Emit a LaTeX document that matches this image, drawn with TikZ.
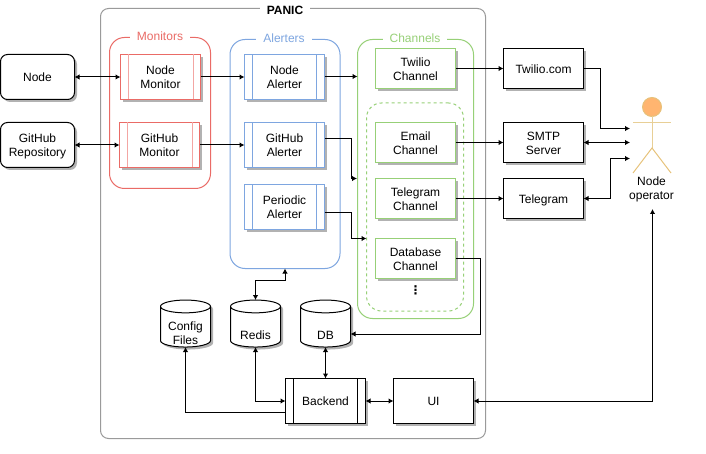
\documentclass[tikz,border=0pt]{standalone}
\usepackage{fontspec}
\setmainfont{Liberation Sans}
\newfontfamily\dotsfont{DejaVu Sans}
\usetikzlibrary{arrows.meta,positioning,shapes.geometric,shadows}
\definecolor{panicline}{HTML}{9A9A9A}
\definecolor{monred}{HTML}{EA6B66}
\definecolor{alblue}{HTML}{7EA6E0}
\definecolor{chgreen}{HTML}{97D077}
\definecolor{headfill}{HTML}{FFB570}
\definecolor{headline}{HTML}{E6C27A}
\definecolor{bodyline}{HTML}{E8CF96}
\newcommand{\procbars}[3]{
  \draw[#2,line width=1pt] ([xshift=#3]#1.north west) -- ([xshift=#3]#1.south west);
  \draw[#2,line width=1pt] ([xshift=-#3]#1.north east) -- ([xshift=-#3]#1.south east);
}
\tikzset{
  every node/.style={font=\fontsize{12}{14}\selectfont,align=center,inner sep=0pt,outer sep=0pt},
  shade2/.style={drop shadow={shadow xshift=2.5pt,shadow yshift=-2.5pt,fill=black,opacity=.3}},
  box/.style={draw=black,fill=white,line width=1pt,minimum width=80pt,minimum height=45pt,text height=9.5pt,text depth=0pt,shade2},
  twolines/.style={text height=24pt},
  source/.style={box,minimum width=74pt,rounded corners=7pt},
  outbox/.style={box,minimum height=40pt},
  monbox/.style={box,twolines,draw=monred},
  alertbox/.style={box,twolines,draw=alblue},
  chanbox/.style={outbox,twolines,draw=chgreen},
  store/.style={cylinder,shape border rotate=90,shape aspect=.32,draw=black,fill=white,line width=1pt,minimum width=50pt,minimum height=47pt,text width=40pt,text height=25pt,text depth=0pt,shade2},
  group/.style={draw=#1,fill=white,line width=1pt,rounded corners=15pt,anchor=north west},
  grouptitle/.style={fill=white,inner xsep=7pt,inner ysep=1pt,text=#1},
  flow/.style={-{Latex[length=5pt,width=5.5pt]},line width=1pt,draw=black},
  sync/.style={{Latex[length=5pt,width=5.5pt]}-{Latex[length=5pt,width=5.5pt]},line width=1pt,draw=black},
  actor/.style={line width=1pt,draw=bodyline}
}
\begin{document}
\begin{tikzpicture}[x=1pt,y=-1pt]
\useasboundingbox (0,0) rectangle (706,454);

% containers
\node[group=panicline,rounded corners=8pt,minimum width=385pt,minimum height=430pt] (panic) at (100.5,8.5) {};
\node[fill=white,inner xsep=7pt,inner ysep=1pt,font=\fontsize{12}{14}\selectfont\bfseries] (panictitle) at (285,10) {PANIC};
\node[group=monred,minimum width=101pt,minimum height=151pt] (monitors) at (109.5,37.5) {};
\node[grouptitle=monred] (monitorstitle) at (160,36.5) {Monitors};
\node[group=alblue,minimum width=110pt,minimum height=229pt] (alerters) at (230,39.5) {};
\node[grouptitle=alblue] (alerterstitle) at (284,38.5) {Alerters};
\node[group=chgreen,minimum width=116pt,minimum height=279pt] (channels) at (357.5,39.5) {};
\node[grouptitle=chgreen] (channelstitle) at (415,38.5) {Channels};
\node[group=chgreen,dashed,minimum width=97pt,minimum height=208pt] (optional) at (366.5,103) {};

% left column
\node[source,anchor=north west] (node) at (0.5,54.5) {Node};
\node[source,twolines,below=23pt of node] (github) {GitHub\\Repository};

% monitors and alerters
\node[monbox,anchor=north west] (nodemon) at (120.5,54.5) {Node\\Monitor};
\node[monbox,anchor=north west] (gitmon) at (119.5,122.5) {GitHub\\Monitor};
\node[alertbox,right=44pt of nodemon] (nodealert) {Node\\Alerter};
\node[alertbox,below=23pt of nodealert] (gitalert) {GitHub\\Alerter};
\node[alertbox,below=17pt of gitalert] (periodic) {Periodic\\Alerter};
\procbars{nodemon}{monred!60}{7.5pt}
\procbars{gitmon}{monred!60}{7.5pt}
\procbars{nodealert}{alblue}{8pt}
\procbars{gitalert}{alblue}{8pt}
\procbars{periodic}{alblue}{8pt}

% channels
\node[chanbox,anchor=north west] (twiliochan) at (375.5,48.5) {Twilio\\Channel};
\node[chanbox,below=34pt of twiliochan] (emailchan) {Email\\Channel};
\node[chanbox,below=16pt of emailchan] (telechan) {Telegram\\Channel};
\node[chanbox,below=20pt of telechan] (dbchan) {Database\\Channel};
\node[below=7pt of dbchan] (ellipsis) {\dotsfont\bfseries ⋮};

% right column
\node[outbox,right=48pt of twiliochan] (twilio) {Twilio.com};
\node[outbox,twolines,below=34pt of twilio] (smtp) {SMTP\\Server};
\node[outbox,below=16pt of smtp] (telegram) {Telegram};

% stores
\node[store] (config) at (185.5,327) {\raisebox{-5pt}{\begin{tabular}[b]{@{}c@{}}Config\\Files\end{tabular}}};
\node[store,right=20pt of config] (redis) {Redis};
\node[store,right=20pt of redis] (db) {DB};

% bottom row
\node[box,anchor=north west] (backend) at (285.5,378.5) {Backend};
\node[box,right=28pt of backend] (ui) {UI};
\procbars{backend}{black}{8pt}

% node operator
\node[circle,draw=headline,fill=headfill,line width=1pt,minimum size=19pt] (head) at (652,107) {};
\coordinate (hip) at (652,148);
\coordinate (armleft) at (633,123);
\coordinate (armright) at (671,123);
\coordinate (legleft) at (633,173);
\coordinate (legright) at (671,173);
\draw[actor] (head.south) -- (hip);
\draw[actor] (armleft) -- (armright);
\draw[actor,draw=headline] (legleft) -- (hip) -- (legright);
\node (operator) at (651.5,189) {Node\\operator};
\coordinate (infromtwilio) at (630,128.5);
\coordinate (infromsmtp) at (630,142.5);
\coordinate (infromtelegram) at (630,158.5);
\coordinate (infromui) at (652.5,209);

% connectors
\draw[sync] (node) -- (nodemon);
\draw[sync] (github) -- (github -| gitmon.west);
\draw[flow] (nodemon) -- (nodealert);
\draw[flow] (gitmon) -- (gitalert);
\draw[flow] ([yshift=.5pt]nodealert.east) -- ([yshift=.5pt]nodealert.east -| channels.west);
\coordinate (gitout) at ([yshift=6.5pt]gitalert.east);
\coordinate (perout) at ([yshift=-6pt]periodic.east);
\draw[flow] (gitout) -| (351,178.5) -- (357,178.5);
\draw[flow] (perout) -| (351,238.5) -- (optional.west |- dbchan.north);
\draw[flow] (twiliochan) -- (twilio);
\draw[flow] (emailchan) -- (smtp);
\draw[flow] (telechan) -- (telegram);
\draw[flow] (twilio.east) -| (600.5,128.5) -- (infromtwilio);
\draw[sync] (smtp.east) -- (infromsmtp);
\draw[sync] (telegram.east) -| (610.5,158.5) -- (infromtelegram);
\draw[sync] (ui.east) -| (infromui);
\draw[sync] (alerters.south) -- ++(0,12) -| (redis.north);
\draw[flow] (dbchan.east) -| (480.5,334) -- (db.east |- 0,334);
\draw[sync] (db.south) -- (db.south |- backend.north);
\draw[sync] (redis.south) |- (backend.west);
\draw[flow] ([yshift=-11pt]backend.west) -| (config.south);
\draw[sync] (backend) -- (ui);
\end{tikzpicture}
\end{document}
